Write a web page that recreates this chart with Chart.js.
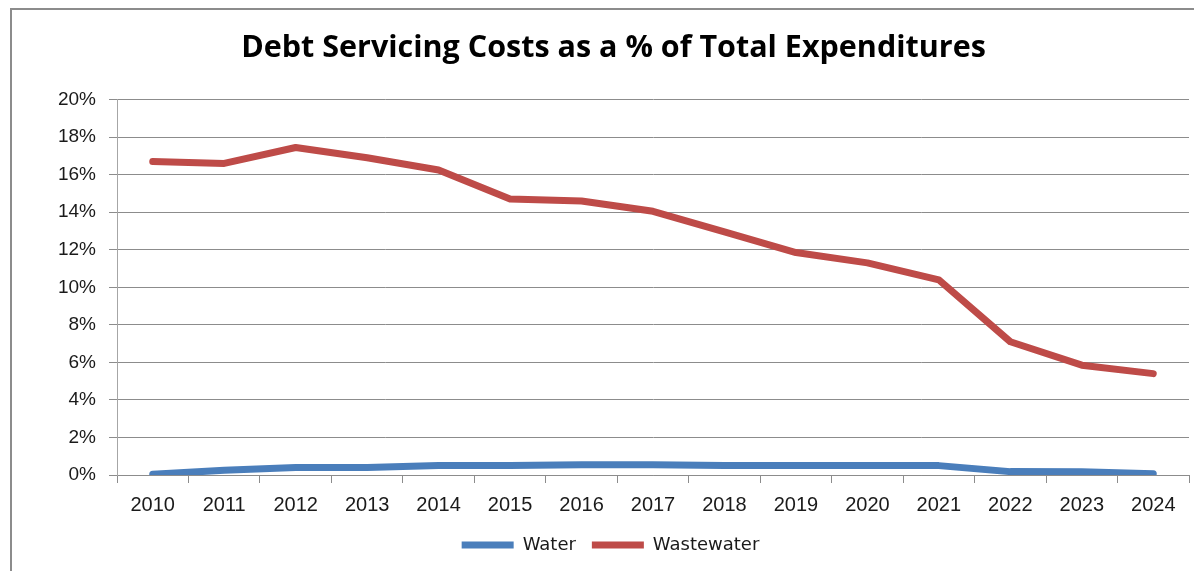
<!DOCTYPE html>
<html lang="en">
<head>
    <meta charset="UTF-8">
    <title>Debt Servicing Costs as a % of Total Expenditures</title>
    <script src="https://cdn.jsdelivr.net/npm/chart.js@4.4.0/dist/chart.umd.min.js"></script>
    <style>
        body {
            margin: 0;
            background: #ffffff;
            overflow: hidden;
        }
        #frame {
            position: absolute;
            left: 10px;
            top: 8px;
            width: 1300px;
            height: 700px;
            border: 2px solid #8c8c8c;
        }
        #wrap {
            position: absolute;
            left: 0;
            top: 0;
            width: 1194px;
            height: 571px;
        }
    </style>
</head>
<body>
<div id="frame"></div>
<div id="wrap">
    <canvas id="debtChart"></canvas>
</div>
<script>
    // Data
    var years = ['2010', '2011', '2012', '2013', '2014', '2015', '2016', '2017',
                 '2018', '2019', '2020', '2021', '2022', '2023', '2024'];
    var water = [0.04, 0.25, 0.4, 0.4, 0.5, 0.5, 0.55, 0.55, 0.5, 0.5, 0.5, 0.5, 0.18, 0.17, 0.07];
    var wastewater = [16.7, 16.6, 17.45, 16.9, 16.25, 14.7, 14.6, 14.05, 12.95, 11.85, 11.3, 10.4, 7.1, 5.85, 5.4];

    var gridGrey = '#8c8c8c';
    var labelFont = 'Liberation Sans';

    // the original centres title and legend a bit right of the canvas middle
    var shiftBlocks = {
        id: 'shiftBlocks',
        afterLayout: function(chart) {
            chart.legend.left += 16;
            chart.legend.right += 16;
            chart.titleBlock.left += 19;
            chart.titleBlock.right += 19;
        }
    };

    var ctx = document.getElementById('debtChart').getContext('2d');
    var chart = new Chart(ctx, {
        type: 'line',
        data: {
            labels: years,
            datasets: [{
                label: 'Water',
                data: water,
                borderColor: '#4a7ebb',
                backgroundColor: '#4a7ebb',
                borderWidth: 7,
                borderCapStyle: 'round',
                borderJoinStyle: 'round',
                pointRadius: 0,
                tension: 0
            }, {
                label: 'Wastewater',
                data: wastewater,
                borderColor: '#be4b48',
                backgroundColor: '#be4b48',
                borderWidth: 7,
                borderCapStyle: 'round',
                borderJoinStyle: 'round',
                pointRadius: 0,
                tension: 0
            }]
        },
        plugins: [shiftBlocks],
        options: {
            responsive: true,
            maintainAspectRatio: false,
            animation: false,
            layout: {
                padding: { left: 0, right: 5, top: 0, bottom: 7 }
            },
            plugins: {
                title: {
                    display: true,
                    text: 'Debt Servicing Costs as a % of Total Expenditures',
                    color: '#000000',
                    font: { family: 'Open Sans', size: 30.5, weight: 'bold', lineHeight: 1.2 },
                    padding: { top: 30, bottom: 33 }
                },
                legend: {
                    position: 'bottom',
                    labels: {
                        usePointStyle: true,
                        pointStyle: 'line',
                        pointStyleWidth: 52,
                        color: '#1a1a1a',
                        font: { family: 'DejaVu Sans', size: 18 },
                        padding: 16
                    }
                },
                tooltip: { enabled: false }
            },
            scales: {
                x: {
                    offset: true,
                    grid: {
                        offset: true,
                        drawOnChartArea: false,
                        drawTicks: true,
                        tickLength: 8,
                        color: gridGrey
                    },
                    border: { color: gridGrey, width: 1 },
                    ticks: {
                        color: '#1a1a1a',
                        font: { family: labelFont, size: 20 },
                        padding: 10,
                        maxRotation: 0,
                        autoSkip: false
                    },
                    afterFit: function(scale) { scale.height = 45; }
                },
                y: {
                    min: 0,
                    max: 20,
                    grid: {
                        color: gridGrey,
                        tickLength: 8
                    },
                    border: { color: '#a6a6a6', width: 1 },
                    ticks: {
                        stepSize: 2,
                        color: '#1a1a1a',
                        font: { family: labelFont, size: 19 },
                        padding: 13,
                        callback: function(v) { return v + '%'; }
                    },
                    afterFit: function(scale) { scale.width = 117; }
                }
            }
        }
    });
</script>
</body>
</html>
